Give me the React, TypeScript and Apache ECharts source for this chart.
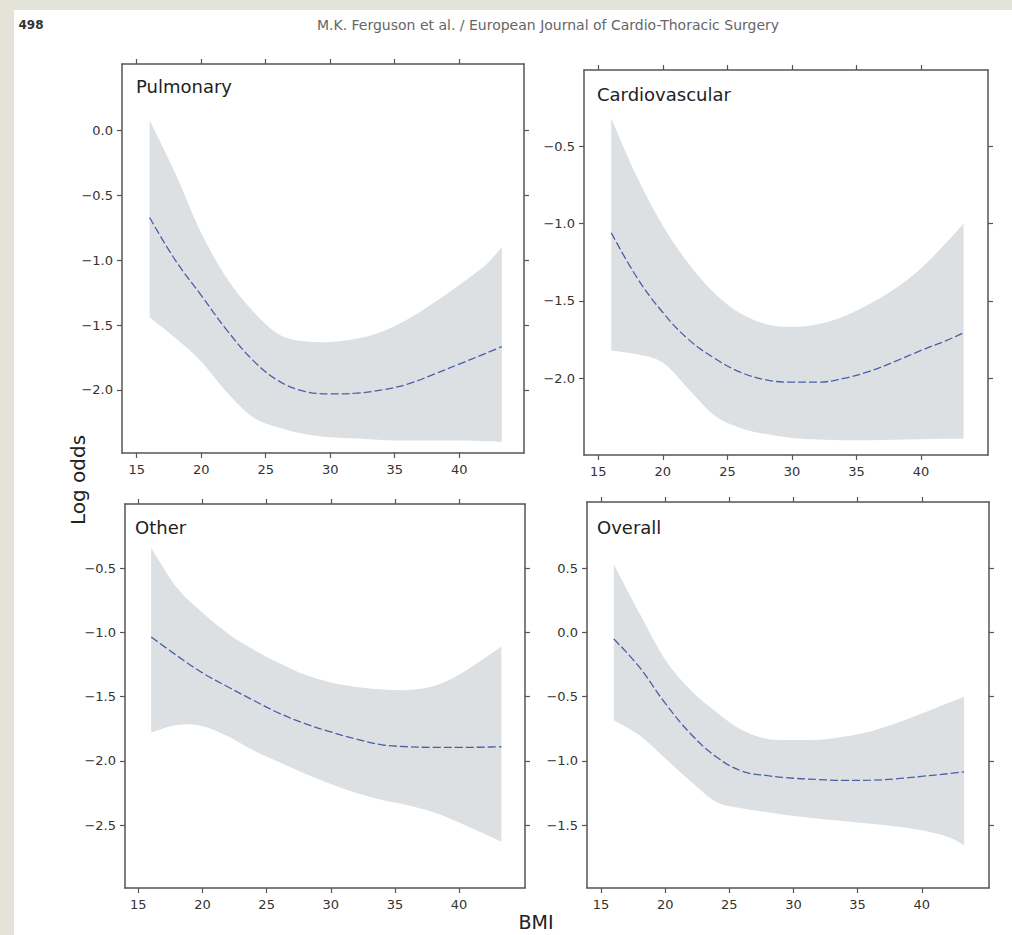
import React, { useEffect, useRef } from 'react';
import * as echarts from 'echarts';

// ---------- data ----------
const BMI = [16, 18, 20, 22, 24, 26, 28, 30, 32, 34, 36, 38, 40, 42, 43.3];
const X_TICKS = [15, 20, 25, 30, 35, 40];

const PANEL_TITLES = ['Pulmonary', 'Cardiovascular', 'Other', 'Overall'];

const pulmonaryFit = [-0.67, -1.0, -1.27, -1.54, -1.77, -1.93, -2.01, -2.03, -2.025, -2.0, -1.955, -1.88, -1.8, -1.72, -1.665];
const pulmonaryUpper = [0.08, -0.33, -0.79, -1.14, -1.39, -1.57, -1.625, -1.63, -1.605, -1.55, -1.455, -1.33, -1.19, -1.04, -0.9];
const pulmonaryLower = [-1.44, -1.6, -1.78, -2.02, -2.21, -2.29, -2.34, -2.365, -2.375, -2.385, -2.39, -2.39, -2.39, -2.395, -2.4];
const pulmonaryYTicks = [0, -0.5, -1, -1.5, -2];

const cardioFit = [-1.06, -1.35, -1.575, -1.75, -1.87, -1.96, -2.01, -2.025, -2.025, -2.0, -1.955, -1.89, -1.82, -1.755, -1.705];
const cardioUpper = [-0.32, -0.7, -1.015, -1.26, -1.45, -1.58, -1.65, -1.667, -1.65, -1.6, -1.52, -1.42, -1.29, -1.12, -1.0];
const cardioLower = [-1.82, -1.845, -1.9, -2.07, -2.24, -2.32, -2.36, -2.385, -2.395, -2.4, -2.4, -2.397, -2.393, -2.39, -2.39];
const cardioYTicks = [-0.5, -1, -1.5, -2];

const otherFit = [-1.035, -1.18, -1.315, -1.425, -1.53, -1.63, -1.71, -1.775, -1.83, -1.875, -1.89, -1.895, -1.895, -1.893, -1.89];
const otherUpper = [-0.34, -0.65, -0.845, -1.01, -1.135, -1.24, -1.33, -1.39, -1.425, -1.445, -1.448, -1.42, -1.33, -1.2, -1.11];
const otherLower = [-1.78, -1.72, -1.73, -1.81, -1.92, -2.01, -2.1, -2.18, -2.25, -2.305, -2.345, -2.4, -2.48, -2.57, -2.63];
const otherYTicks = [-0.5, -1, -1.5, -2, -2.5];

const overallFit = [-0.05, -0.27, -0.55, -0.79, -0.97, -1.08, -1.115, -1.135, -1.145, -1.152, -1.15, -1.14, -1.12, -1.1, -1.085];
const overallUpper = [0.53, 0.15, -0.21, -0.45, -0.62, -0.76, -0.83, -0.837, -0.835, -0.81, -0.77, -0.707, -0.63, -0.55, -0.5];
const overallLower = [-0.685, -0.8, -0.98, -1.16, -1.32, -1.37, -1.4, -1.43, -1.45, -1.47, -1.49, -1.51, -1.54, -1.59, -1.655];
const overallYTicks = [0.5, 0, -0.5, -1, -1.5];

const HEADER = 'M.K. Ferguson et al. / European Journal of Cardio-Thoracic Surgery';
const PAGE_NO = '498';
const Y_TITLE = 'Log odds';
const X_TITLE = 'BMI';

// ---------- layout / style ----------
const LAYOUT = [
  { left: 122, top: 64, width: 402, height: 389, xMin: 13.86, xMax: 45.02, yMin: -2.486, yMax: 0.514, tx: 136, ty: 86 },
  { left: 584, top: 70, width: 404, height: 385, xMin: 13.89, xMax: 45.19, yMin: -2.495, yMax: -0.009, tx: 597, ty: 94 },
  { left: 125, top: 504, width: 400, height: 384, xMin: 13.96, xMax: 45.14, yMin: -2.99, yMax: 0.0, tx: 135, ty: 527 },
  { left: 587, top: 502, width: 402, height: 386, xMin: 13.91, xMax: 45.24, yMin: -1.99, yMax: 1.017, tx: 597, ty: 527 },
];

const FRAME = '#555555';
const BAND = '#dde0e3';
const LINE = '#4b5ea6';
const FONT = '"DejaVu Sans", sans-serif';
const STRIP = '#e3e4d7';

const panels = [
  { fit: pulmonaryFit, upper: pulmonaryUpper, lower: pulmonaryLower, yTicks: pulmonaryYTicks },
  { fit: cardioFit, upper: cardioUpper, lower: cardioLower, yTicks: cardioYTicks },
  { fit: otherFit, upper: otherUpper, lower: otherLower, yTicks: otherYTicks },
  { fit: overallFit, upper: overallUpper, lower: overallLower, yTicks: overallYTicks },
];

// smooth curve through screen points (Catmull-Rom as cubic Bezier)
function curveThrough(ctx: any, pts: number[][]) {
  for (let i = 0; i < pts.length - 1; i++) {
    const p0 = pts[Math.max(i - 1, 0)];
    const p1 = pts[i];
    const p2 = pts[i + 1];
    const p3 = pts[Math.min(i + 2, pts.length - 1)];
    const c1x = p1[0] + (p2[0] - p0[0]) / 6;
    const c1y = p1[1] + (p2[1] - p0[1]) / 6;
    const c2x = p2[0] - (p3[0] - p1[0]) / 6;
    const c2y = p2[1] - (p3[1] - p1[1]) / 6;
    ctx.bezierCurveTo(c1x, c1y, c2x, c2y, p2[0], p2[1]);
  }
}

const BandShape = (echarts.graphic as any).extendShape({
  type: 'ciBand',
  shape: { upper: [], lower: [] },
  buildPath(ctx: any, shape: any) {
    const up: number[][] = shape.upper || [];
    const lo: number[][] = shape.lower || [];
    if (!up.length || !lo.length) return;
    ctx.moveTo(up[0][0], up[0][1]);
    curveThrough(ctx, up);
    const loR = lo.slice().reverse();
    ctx.lineTo(loR[0][0], loR[0][1]);
    curveThrough(ctx, loR);
    ctx.closePath();
  },
});
(echarts.graphic as any).registerShape('ciBand', BandShape);

const fmtY = (v: number) => (v < -1e-9 ? '\u2212' : '') + Math.abs(v).toFixed(1);

function buildOption() {
  const grid: any[] = [];
  const xAxis: any[] = [];
  const yAxis: any[] = [];
  const series: any[] = [];
  const lineStyle = { color: FRAME, width: 1.5 };
  const tickStyle = { color: FRAME, width: 1.2 };

  panels.forEach((p, i) => {
    const L = LAYOUT[i];
    grid.push({ left: L.left, top: L.top, width: L.width, height: L.height, containLabel: false });
    const xBase = {
      type: 'value', gridIndex: i, min: L.xMin, max: L.xMax, z: 3,
      splitLine: { show: false },
      axisLine: { show: true, onZero: false, lineStyle },
    };
    xAxis.push({
      ...xBase, position: 'bottom',
      axisTick: { show: true, inside: false, length: 5, customValues: X_TICKS, lineStyle: tickStyle },
      axisLabel: {
        show: true, customValues: X_TICKS, margin: 10, color: '#333', fontSize: 13, fontFamily: FONT,
        formatter: (v: number) => String(v),
      },
    });
    xAxis.push({
      ...xBase, position: 'top',
      axisTick: { show: true, inside: false, length: 5, customValues: X_TICKS, lineStyle: tickStyle },
      axisLabel: { show: false },
    });
    const yBase = {
      type: 'value', gridIndex: i, min: L.yMin, max: L.yMax, z: 3,
      splitLine: { show: false },
      axisLine: { show: true, onZero: false, lineStyle },
    };
    yAxis.push({
      ...yBase, position: 'left',
      axisTick: { show: true, inside: false, length: 5, customValues: p.yTicks, lineStyle: tickStyle },
      axisLabel: {
        show: true, customValues: p.yTicks, margin: 9, color: '#333', fontSize: 13, fontFamily: FONT,
        formatter: fmtY,
      },
    });
    yAxis.push({
      ...yBase, position: 'right',
      axisTick: { show: true, inside: false, length: 5, customValues: p.yTicks, lineStyle: tickStyle },
      axisLabel: { show: false },
    });

    const xi = i * 2;
    const yi = i * 2;
    series.push({
      type: 'custom', xAxisIndex: xi, yAxisIndex: yi, silent: true, z: 2, clip: false,
      data: [[BMI[0], p.fit[0]]],
      renderItem: (_params: any, api: any) => ({
        type: 'ciBand',
        shape: {
          upper: BMI.map((x, k) => api.coord([x, p.upper[k]])),
          lower: BMI.map((x, k) => api.coord([x, p.lower[k]])),
        },
        style: { fill: BAND, stroke: null },
      }),
    });
    series.push({
      type: 'line', xAxisIndex: xi, yAxisIndex: yi, silent: true, z: 4,
      data: BMI.map((x, k) => [x, p.fit[k]]),
      smooth: 0.4, symbol: 'none',
      lineStyle: { color: LINE, width: 1.3, type: [8, 3] },
    });
  });

  const graphic: any[] = [
    { type: 'rect', silent: true, z: -10, shape: { x: 0, y: 0, width: 1012, height: 10 }, style: { fill: STRIP } },
    { type: 'rect', silent: true, z: -10, shape: { x: 0, y: 0, width: 14, height: 935 }, style: { fill: STRIP } },
    {
      type: 'text', x: 31, y: 25,
      style: { text: PAGE_NO, fontSize: 12, fontWeight: 'bold', fontFamily: FONT, fill: '#333', align: 'center', verticalAlign: 'middle' },
    },
    {
      type: 'text', x: 548, y: 25,
      style: { text: HEADER, fontSize: 14, fontFamily: FONT, fill: '#666', align: 'center', verticalAlign: 'middle' },
    },
    {
      type: 'text', x: 78, y: 480, rotation: Math.PI / 2,
      style: { text: Y_TITLE, fontSize: 20, fontFamily: FONT, fill: '#222', align: 'center', verticalAlign: 'middle' },
    },
    {
      type: 'text', x: 536, y: 922,
      style: { text: X_TITLE, fontSize: 19, fontFamily: FONT, fill: '#222', align: 'center', verticalAlign: 'middle' },
    },
  ];
  PANEL_TITLES.forEach((t, i) => {
    const L = LAYOUT[i];
    graphic.push({
      type: 'text', x: L.tx, y: L.ty, z: 10,
      style: { text: t, fontSize: 18, fontFamily: FONT, fill: '#222', align: 'left', verticalAlign: 'middle' },
    });
  });

  return {
    animation: false,
    backgroundColor: '#ffffff',
    grid, xAxis, yAxis, series, graphic,
  };
}

export default function App() {
  const ref = useRef<HTMLDivElement>(null);
  useEffect(() => {
    document.body.style.margin = '0';
    if (!ref.current) return;
    const chart = echarts.init(ref.current, undefined, { renderer: 'svg' });
    chart.setOption(buildOption() as any);
    return () => chart.dispose();
  }, []);
  return <div ref={ref} style={{ width: 1012, height: 935 }} />;
}
